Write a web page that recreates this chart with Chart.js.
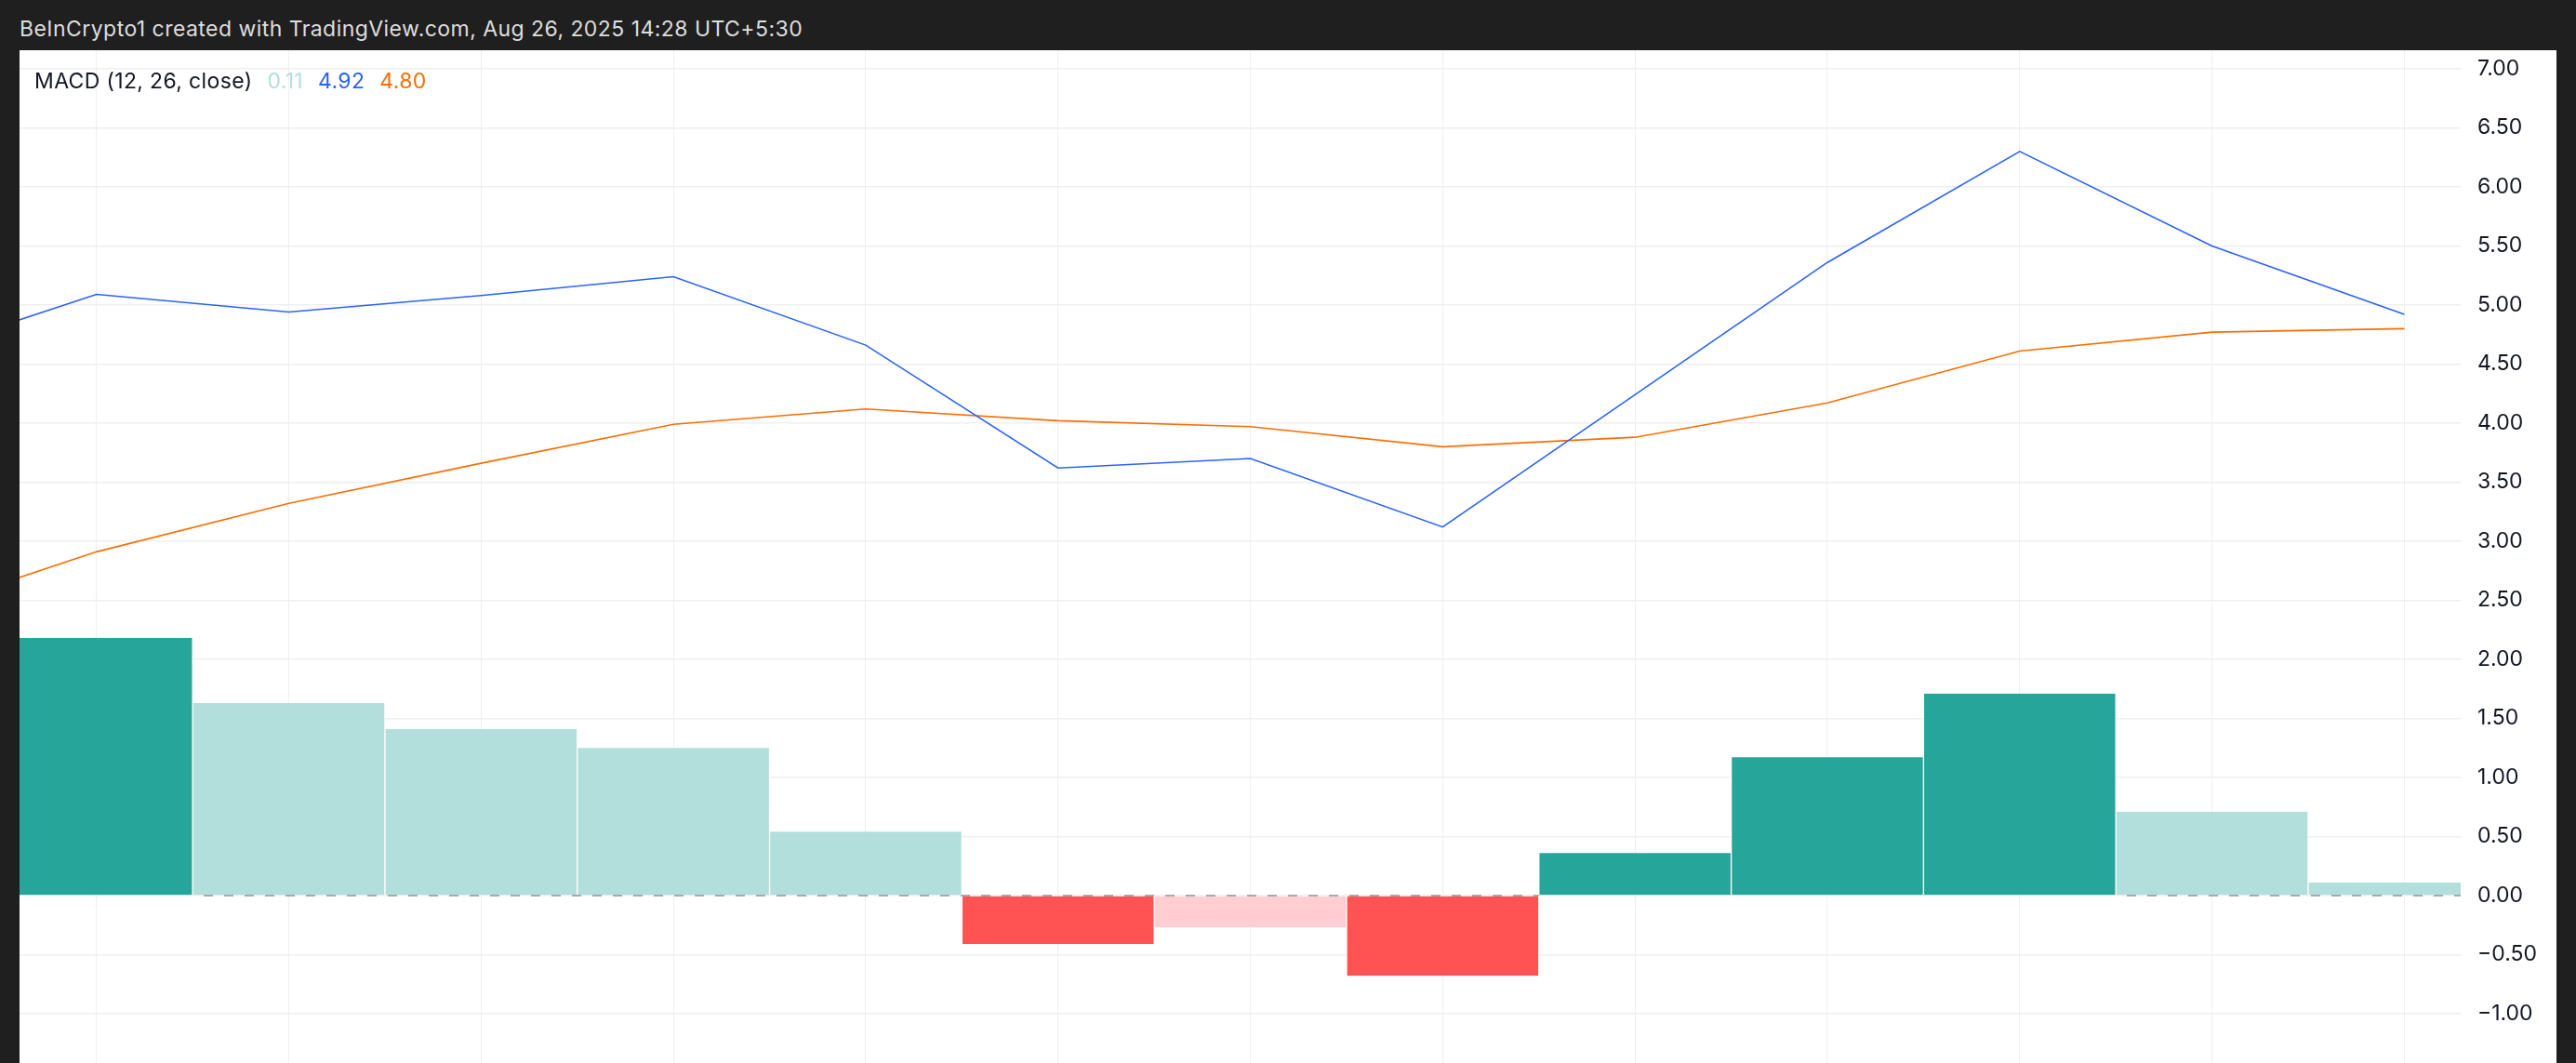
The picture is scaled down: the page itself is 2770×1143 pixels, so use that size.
<!DOCTYPE html>
<html>
<head>
<meta charset="utf-8">
<script src="https://cdn.jsdelivr.net/npm/chart.js"></script>
<style>
  html, body { margin: 0; padding: 0; background: #1f1f1f; width: 2770px; height: 1143px; overflow: hidden; }
  #header { position: absolute; left: 21px; top: 17px; font-family: Inter, "Noto Sans", sans-serif; font-size: 23px; letter-spacing: 0.45px; color: #dedede; white-space: nowrap; }
  #panel { position: absolute; left: 21px; top: 54px; width: 2728px; height: 1089px; background: #ffffff; }
  #legend { position: absolute; left: 37px; top: 73px; font-family: Inter, "Noto Sans", sans-serif; font-size: 23px; letter-spacing: 0.35px; color: #131722; white-space: nowrap; }
  #legend span { margin-left: 16px; }
  canvas { position: absolute; left: 0; top: 0; }
</style>
</head>
<body>
<div id="header">BeInCrypto1 created with TradingView.com, Aug 26, 2025 14:28 UTC+5:30</div>
<div id="panel"><canvas id="c" width="2728" height="1089"></canvas></div>
<div id="legend">MACD (12, 26, close)<span id="lh" style="color:#b2dfdb"></span><span id="lm" style="color:#2962ff"></span><span id="ls" style="color:#ff6d00"></span></div>
<script>
// Bar positions (bar index; -1 is the bar just left of the visible window)
const periods = [-1, 0, 1, 2, 3, 4, 5, 6, 7, 8, 9, 10, 11, 12];
// MACD line (blue)
const macdLine = [4.55, 5.09, 4.94, 5.08, 5.24, 4.66, 3.62, 3.70, 3.12, 4.24, 5.36, 6.30, 5.50, 4.92];
// Signal line (orange)
const signalLine = [2.37, 2.91, 3.32, 3.66, 3.99, 4.12, 4.02, 3.97, 3.80, 3.88, 4.17, 4.61, 4.77, 4.80];
// Histogram
const histogram = [null, 2.18, 1.63, 1.41, 1.25, 0.54, -0.41, -0.27, -0.68, 0.36, 1.17, 1.71, 0.71, 0.11];
// Price-axis tick labels
const yTicks = [-1.0, -0.5, 0.0, 0.5, 1.0, 1.5, 2.0, 2.5, 3.0, 3.5, 4.0, 4.5, 5.0, 5.5, 6.0, 6.5, 7.0];
// Visible window
const xRange = [-0.40, 12.293];
const yRange = [-1.418, 7.157];

const COL = { upStrong: '#26a69a', upWeak: '#b2dfdb', downStrong: '#ff5252', downWeak: '#ffcdd2' };
function histColor(i) {
  const v = histogram[i];
  const prev = i > 0 ? histogram[i - 1] : null;
  if (v >= 0) return (prev === null || v > prev) ? COL.upStrong : COL.upWeak;
  return (prev === null || v < prev) ? COL.downStrong : COL.downWeak;
}
const fmt = v => (v < 0 ? '\u2212' : '') + Math.abs(v).toFixed(2);
const last = periods.length - 1;
document.getElementById('lh').textContent = fmt(histogram[last]);
document.getElementById('lm').textContent = fmt(macdLine[last]);
document.getElementById('ls').textContent = fmt(signalLine[last]);

const zeroLine = {
  id: 'zeroLine',
  afterDatasetsDraw(chart) {
    const { ctx, chartArea: a, scales: { y } } = chart;
    const py = y.getPixelForValue(0);
    const meta = chart.getDatasetMeta(0);
    ctx.save();
    ctx.beginPath();
    ctx.rect(a.left, a.top, a.right - a.left, a.bottom - a.top);
    meta.data.forEach((el, i) => {
      if (histogram[i] !== null && histColor(i) === COL.upStrong) {
        ctx.rect(el.x - el.width / 2, py - 4, el.width, 8);
      }
    });
    ctx.clip('evenodd');
    ctx.strokeStyle = 'rgba(120,123,134,0.6)';
    ctx.lineWidth = 2;
    ctx.setLineDash([10, 12]);
    ctx.beginPath();
    ctx.moveTo(a.left, py);
    ctx.lineTo(a.right, py);
    ctx.stroke();
    ctx.restore();
  }
};

const pts = arr => periods.map((p, i) => ({ x: p, y: arr[i] }));
const noPad = s => { s.paddingTop = 0; s.paddingBottom = 0; s.paddingLeft = 0; s.paddingRight = 0; };

new Chart(document.getElementById('c'), {
  type: 'bar',
  data: {
    datasets: [
      {
        type: 'bar', label: 'Histogram', data: pts(histogram), order: 3,
        backgroundColor: periods.map((p, i) => histogram[i] === null ? 'transparent' : histColor(i)),
        borderColor: '#ffffff', borderWidth: { top: 0, bottom: 0, left: 1, right: 1 }, borderSkipped: false,
        barPercentage: 1, categoryPercentage: 1
      },
      { type: 'line', label: 'MACD', data: pts(macdLine), order: 1, borderColor: '#2962ff', borderWidth: 1.6, pointRadius: 0, tension: 0 },
      { type: 'line', label: 'Signal', data: pts(signalLine), order: 2, borderColor: '#ff6d00', borderWidth: 1.6, pointRadius: 0, tension: 0 }
    ]
  },
  options: {
    responsive: false, animation: false, devicePixelRatio: 1,
    layout: { padding: 0 },
    plugins: { legend: { display: false }, tooltip: { enabled: false } },
    scales: {
      x: {
        type: 'linear', min: xRange[0], max: xRange[1], offset: false,
        ticks: { display: false },
        grid: { color: '#efeff1', lineWidth: 1, drawTicks: false, offset: false },
        border: { display: false },
        afterBuildTicks: s => { s.ticks = periods.filter(p => p >= 0).map(v => ({ value: v })); },
        afterFit: s => { s.height = 0; noPad(s); }
      },
      y: {
        type: 'linear', position: 'right', min: yRange[0], max: yRange[1],
        ticks: { color: '#131722', font: { family: 'Inter', size: 23 }, padding: 18, callback: v => fmt(v) },
        grid: { color: '#efeff1', lineWidth: 1.5, drawTicks: false },
        border: { display: false },
        afterBuildTicks: s => { s.ticks = yTicks.map(v => ({ value: v })); },
        afterFit: s => { s.width = 103; noPad(s); }
      }
    }
  },
  plugins: [zeroLine]
});
</script>
</body>
</html>
